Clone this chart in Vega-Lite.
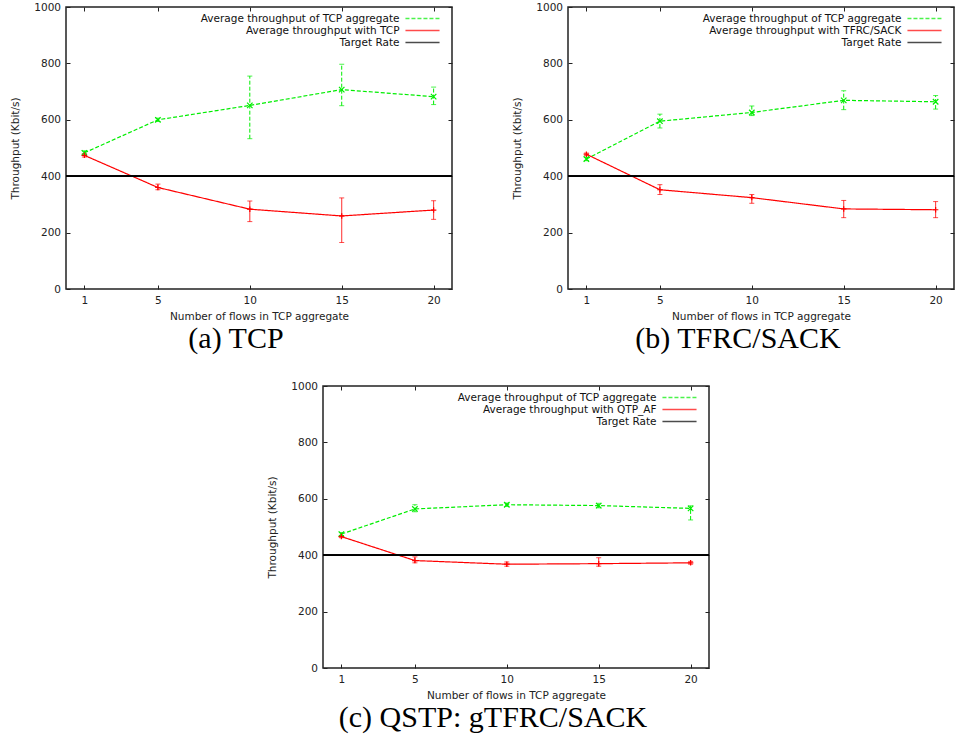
{
  "$schema": "https://vega.github.io/schema/vega-lite/v6.json",
  "padding": {"left": 10, "top": 1, "right": 0, "bottom": 0},
  "background": "white",
  "datasets": {
    "a": [
      {"series": "Average throughput of TCP aggregate", "x": 1, "y": 483, "lo": 478, "hi": 490},
      {"series": "Average throughput of TCP aggregate", "x": 5, "y": 600, "lo": 594, "hi": 606},
      {"series": "Average throughput of TCP aggregate", "x": 10, "y": 651, "lo": 533, "hi": 755},
      {"series": "Average throughput of TCP aggregate", "x": 15, "y": 707, "lo": 650, "hi": 797},
      {"series": "Average throughput of TCP aggregate", "x": 20, "y": 682, "lo": 654, "hi": 716},
      {"series": "Average throughput with TCP", "x": 1, "y": 474, "lo": 468, "hi": 480},
      {"series": "Average throughput with TCP", "x": 5, "y": 360, "lo": 352, "hi": 372},
      {"series": "Average throughput with TCP", "x": 10, "y": 283, "lo": 239, "hi": 312},
      {"series": "Average throughput with TCP", "x": 15, "y": 259, "lo": 165, "hi": 323},
      {"series": "Average throughput with TCP", "x": 20, "y": 280, "lo": 247, "hi": 313}
    ],
    "b": [
      {"series": "Average throughput of TCP aggregate", "x": 1, "y": 461, "lo": 455, "hi": 467},
      {"series": "Average throughput of TCP aggregate", "x": 5, "y": 595, "lo": 571, "hi": 620},
      {"series": "Average throughput of TCP aggregate", "x": 10, "y": 626, "lo": 615, "hi": 649},
      {"series": "Average throughput of TCP aggregate", "x": 15, "y": 669, "lo": 636, "hi": 703},
      {"series": "Average throughput of TCP aggregate", "x": 20, "y": 664, "lo": 638, "hi": 686},
      {"series": "Average throughput with TFRC/SACK", "x": 1, "y": 478, "lo": 474, "hi": 482},
      {"series": "Average throughput with TFRC/SACK", "x": 5, "y": 352, "lo": 335, "hi": 370},
      {"series": "Average throughput with TFRC/SACK", "x": 10, "y": 324, "lo": 304, "hi": 335},
      {"series": "Average throughput with TFRC/SACK", "x": 15, "y": 284, "lo": 253, "hi": 314},
      {"series": "Average throughput with TFRC/SACK", "x": 20, "y": 281, "lo": 253, "hi": 310}
    ],
    "c": [
      {"series": "Average throughput of TCP aggregate", "x": 1, "y": 475, "lo": 470, "hi": 480},
      {"series": "Average throughput of TCP aggregate", "x": 5, "y": 564, "lo": 554, "hi": 579},
      {"series": "Average throughput of TCP aggregate", "x": 10, "y": 579, "lo": 573, "hi": 585},
      {"series": "Average throughput of TCP aggregate", "x": 15, "y": 576, "lo": 568, "hi": 584},
      {"series": "Average throughput of TCP aggregate", "x": 20, "y": 566, "lo": 525, "hi": 575},
      {"series": "Average throughput with QTP_AF", "x": 1, "y": 466, "lo": 462, "hi": 470},
      {"series": "Average throughput with QTP_AF", "x": 5, "y": 381, "lo": 373, "hi": 394},
      {"series": "Average throughput with QTP_AF", "x": 10, "y": 368, "lo": 361, "hi": 376},
      {"series": "Average throughput with QTP_AF", "x": 15, "y": 370, "lo": 361, "hi": 391},
      {"series": "Average throughput with QTP_AF", "x": 20, "y": 373, "lo": 368, "hi": 378}
    ]
  },
  "vconcat": [
    {
      "hconcat": [
        {
          "data": {"name": "a"},
          "width": 386, "height": 282,
          "title": {"text": "(a) TCP"},
          "layer": [
            {"mark": {"type": "rule", "strokeWidth": 1},
             "encoding": {
               "x": {"field": "x", "type": "quantitative", "axis": null, "scale": {"domain": [0, 21], "nice": false, "zero": false}},
               "y": {"field": "lo", "type": "quantitative", "axis": null, "scale": {"domain": [0, 1000], "nice": false}},
               "y2": {"field": "hi"},
               "color": {"field": "series", "type": "nominal", "scale": {"domain": ["Average throughput of TCP aggregate", "Average throughput with TCP", "Target Rate"], "range": ["#00ee00", "#ff0000", "#000000"]}},
               "strokeDash": {"field": "series", "type": "nominal", "scale": {"domain": ["Average throughput of TCP aggregate", "Average throughput with TCP", "Target Rate"], "range": [[4, 2], [1, 0], [1, 0]]}}
             }},
            {"mark": {"type": "tick", "orient": "horizontal", "size": 5, "thickness": 1},
             "encoding": {
               "x": {"field": "x", "type": "quantitative", "axis": null},
               "y": {"field": "lo", "type": "quantitative", "axis": null},
               "color": {"field": "series", "type": "nominal"}
             }},
            {"mark": {"type": "tick", "orient": "horizontal", "size": 5, "thickness": 1},
             "encoding": {
               "x": {"field": "x", "type": "quantitative", "axis": null},
               "y": {"field": "hi", "type": "quantitative", "axis": null},
               "color": {"field": "series", "type": "nominal"}
             }},
            {"mark": {"type": "line", "strokeWidth": 1.2},
             "encoding": {
               "x": {"field": "x", "type": "quantitative", "title": "Number of flows in TCP aggregate", "axis": {"orient": "bottom", "values": [1, 5, 10, 15, 20]}},
               "y": {"field": "y", "type": "quantitative", "title": "Throughput (Kbit/s)", "axis": {"orient": "left", "format": "d", "values": [0, 200, 400, 600, 800, 1000]}},
               "color": {"field": "series", "type": "nominal", "legend": {"title": null, "symbolType": "M-3.1,0L3.1,0"}},
               "strokeDash": {"field": "series", "type": "nominal", "legend": {"title": null, "symbolType": "M-3.1,0L3.1,0"}}
             }},
            {"mark": {"type": "point", "filled": false, "strokeWidth": 1.2, "size": 30, "opacity": 1},
             "encoding": {
               "x": {"field": "x", "type": "quantitative", "axis": {"orient": "top", "labels": false, "title": null, "values": [1, 5, 10, 15, 20]}},
               "y": {"field": "y", "type": "quantitative", "axis": {"orient": "right", "labels": false, "title": null, "values": [0, 200, 400, 600, 800, 1000]}},
               "color": {"field": "series", "type": "nominal"},
               "shape": {"field": "series", "type": "nominal", "legend": null, "scale": {"domain": ["Average throughput of TCP aggregate", "Average throughput with TCP"], "range": ["M-1,-1L1,1M-1,1L1,-1", "M-1,0L1,0M0,-1L0,1"]}}
             }},
            {"mark": {"type": "rule", "strokeWidth": 1},
             "encoding": {
               "y": {"datum": 400, "type": "quantitative", "axis": null},
               "color": {"datum": "Target Rate", "type": "nominal"}
             }}
          ],
          "resolve": {"axis": {"x": "independent", "y": "independent"}}
        },
        {
          "data": {"name": "b"},
          "width": 386, "height": 282,
          "title": {"text": "(b) TFRC/SACK"},
          "layer": [
            {"mark": {"type": "rule", "strokeWidth": 1},
             "encoding": {
               "x": {"field": "x", "type": "quantitative", "axis": null, "scale": {"domain": [0, 21], "nice": false, "zero": false}},
               "y": {"field": "lo", "type": "quantitative", "axis": null, "scale": {"domain": [0, 1000], "nice": false}},
               "y2": {"field": "hi"},
               "color": {"field": "series", "type": "nominal", "scale": {"domain": ["Average throughput of TCP aggregate", "Average throughput with TFRC/SACK", "Target Rate"], "range": ["#00ee00", "#ff0000", "#000000"]}},
               "strokeDash": {"field": "series", "type": "nominal", "scale": {"domain": ["Average throughput of TCP aggregate", "Average throughput with TFRC/SACK", "Target Rate"], "range": [[4, 2], [1, 0], [1, 0]]}}
             }},
            {"mark": {"type": "tick", "orient": "horizontal", "size": 5, "thickness": 1},
             "encoding": {
               "x": {"field": "x", "type": "quantitative", "axis": null},
               "y": {"field": "lo", "type": "quantitative", "axis": null},
               "color": {"field": "series", "type": "nominal"}
             }},
            {"mark": {"type": "tick", "orient": "horizontal", "size": 5, "thickness": 1},
             "encoding": {
               "x": {"field": "x", "type": "quantitative", "axis": null},
               "y": {"field": "hi", "type": "quantitative", "axis": null},
               "color": {"field": "series", "type": "nominal"}
             }},
            {"mark": {"type": "line", "strokeWidth": 1.2},
             "encoding": {
               "x": {"field": "x", "type": "quantitative", "title": "Number of flows in TCP aggregate", "axis": {"orient": "bottom", "values": [1, 5, 10, 15, 20]}},
               "y": {"field": "y", "type": "quantitative", "title": "Throughput (Kbit/s)", "axis": {"orient": "left", "format": "d", "values": [0, 200, 400, 600, 800, 1000]}},
               "color": {"field": "series", "type": "nominal", "legend": {"title": null, "symbolType": "M-3.1,0L3.1,0"}},
               "strokeDash": {"field": "series", "type": "nominal", "legend": {"title": null, "symbolType": "M-3.1,0L3.1,0"}}
             }},
            {"mark": {"type": "point", "filled": false, "strokeWidth": 1.2, "size": 30, "opacity": 1},
             "encoding": {
               "x": {"field": "x", "type": "quantitative", "axis": {"orient": "top", "labels": false, "title": null, "values": [1, 5, 10, 15, 20]}},
               "y": {"field": "y", "type": "quantitative", "axis": {"orient": "right", "labels": false, "title": null, "values": [0, 200, 400, 600, 800, 1000]}},
               "color": {"field": "series", "type": "nominal"},
               "shape": {"field": "series", "type": "nominal", "legend": null, "scale": {"domain": ["Average throughput of TCP aggregate", "Average throughput with TFRC/SACK"], "range": ["M-1,-1L1,1M-1,1L1,-1", "M-1,0L1,0M0,-1L0,1"]}}
             }},
            {"mark": {"type": "rule", "strokeWidth": 1},
             "encoding": {
               "y": {"datum": 400, "type": "quantitative", "axis": null},
               "color": {"datum": "Target Rate", "type": "nominal"}
             }}
          ],
          "resolve": {"axis": {"x": "independent", "y": "independent"}}
        }
      ],
      "spacing": 58,
      "resolve": {"scale": {"color": "independent", "strokeDash": "independent", "shape": "independent"}, "legend": {"color": "independent", "strokeDash": "independent", "shape": "independent"}}
    },
    {
      "hconcat": [
        {"width": 143, "height": 1, "data": {"values": []}, "mark": {"type": "point", "opacity": 0}, "encoding": {}, "view": {"stroke": null}},
        {
          "data": {"name": "c"},
          "width": 386, "height": 282,
          "title": {"text": "(c) QSTP: gTFRC/SACK"},
          "layer": [
            {"mark": {"type": "rule", "strokeWidth": 1},
             "encoding": {
               "x": {"field": "x", "type": "quantitative", "axis": null, "scale": {"domain": [0, 21], "nice": false, "zero": false}},
               "y": {"field": "lo", "type": "quantitative", "axis": null, "scale": {"domain": [0, 1000], "nice": false}},
               "y2": {"field": "hi"},
               "color": {"field": "series", "type": "nominal", "scale": {"domain": ["Average throughput of TCP aggregate", "Average throughput with QTP_AF", "Target Rate"], "range": ["#00ee00", "#ff0000", "#000000"]}},
               "strokeDash": {"field": "series", "type": "nominal", "scale": {"domain": ["Average throughput of TCP aggregate", "Average throughput with QTP_AF", "Target Rate"], "range": [[4, 2], [1, 0], [1, 0]]}}
             }},
            {"mark": {"type": "tick", "orient": "horizontal", "size": 5, "thickness": 1},
             "encoding": {
               "x": {"field": "x", "type": "quantitative", "axis": null},
               "y": {"field": "lo", "type": "quantitative", "axis": null},
               "color": {"field": "series", "type": "nominal"}
             }},
            {"mark": {"type": "tick", "orient": "horizontal", "size": 5, "thickness": 1},
             "encoding": {
               "x": {"field": "x", "type": "quantitative", "axis": null},
               "y": {"field": "hi", "type": "quantitative", "axis": null},
               "color": {"field": "series", "type": "nominal"}
             }},
            {"mark": {"type": "line", "strokeWidth": 1.2},
             "encoding": {
               "x": {"field": "x", "type": "quantitative", "title": "Number of flows in TCP aggregate", "axis": {"orient": "bottom", "values": [1, 5, 10, 15, 20]}},
               "y": {"field": "y", "type": "quantitative", "title": "Throughput (Kbit/s)", "axis": {"orient": "left", "format": "d", "values": [0, 200, 400, 600, 800, 1000]}},
               "color": {"field": "series", "type": "nominal", "legend": {"title": null, "symbolType": "M-3.1,0L3.1,0"}},
               "strokeDash": {"field": "series", "type": "nominal", "legend": {"title": null, "symbolType": "M-3.1,0L3.1,0"}}
             }},
            {"mark": {"type": "point", "filled": false, "strokeWidth": 1.2, "size": 30, "opacity": 1},
             "encoding": {
               "x": {"field": "x", "type": "quantitative", "axis": {"orient": "top", "labels": false, "title": null, "values": [1, 5, 10, 15, 20]}},
               "y": {"field": "y", "type": "quantitative", "axis": {"orient": "right", "labels": false, "title": null, "values": [0, 200, 400, 600, 800, 1000]}},
               "color": {"field": "series", "type": "nominal"},
               "shape": {"field": "series", "type": "nominal", "legend": null, "scale": {"domain": ["Average throughput of TCP aggregate", "Average throughput with QTP_AF"], "range": ["M-1,-1L1,1M-1,1L1,-1", "M-1,0L1,0M0,-1L0,1"]}}
             }},
            {"mark": {"type": "rule", "strokeWidth": 1},
             "encoding": {
               "y": {"datum": 400, "type": "quantitative", "axis": null},
               "color": {"datum": "Target Rate", "type": "nominal"}
             }}
          ],
          "resolve": {"axis": {"x": "independent", "y": "independent"}}
        }
      ],
      "spacing": 58,
      "resolve": {"scale": {"color": "independent", "strokeDash": "independent", "shape": "independent"}, "legend": {"color": "independent", "strokeDash": "independent", "shape": "independent"}}
    }
  ],
  "spacing": 25,
  "resolve": {"scale": {"color": "independent", "strokeDash": "independent", "shape": "independent"}, "legend": {"color": "independent", "strokeDash": "independent", "shape": "independent"}},
  "config": {
    "font": "DejaVu Sans",
    "view": {"stroke": "#222222", "strokeWidth": 1.5},
    "axis": {"grid": false, "domain": false, "tickColor": "#222222", "tickSize": -4, "tickWidth": 1, "labelFont": "DejaVu Sans", "labelFontSize": 10.5, "labelColor": "#222222", "labelPadding": 10.5, "titleFont": "DejaVu Sans", "titleFontSize": 10.5, "titleFontWeight": "normal", "titleColor": "#222222"},
    "axisLeft": {"titlePadding": 13, "labelPadding": 9.5},
    "axisBottom": {"titlePadding": 5},
    "legend": {"orient": "none", "legendX": 350, "legendY": 5, "padding": 0, "labelAlign": "right", "labelOffset": -29.5, "labelLimit": 400, "labelFont": "DejaVu Sans", "labelFontSize": 10.5, "labelColor": "#111111", "symbolSize": 121, "symbolStrokeWidth": 1.5, "rowPadding": 0},
    "title": {"orient": "bottom", "frame": "group", "anchor": "middle", "dx": -23, "offset": 2, "font": "Liberation Serif", "fontSize": 30, "fontWeight": "normal", "color": "#000000"}
  }
}
